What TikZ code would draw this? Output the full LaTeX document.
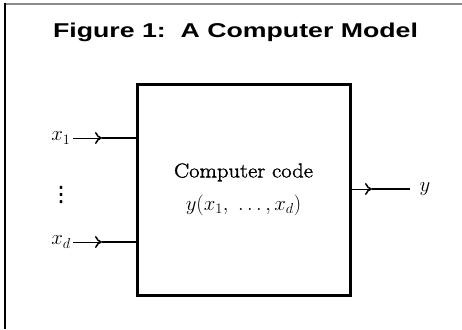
\documentclass[tikz,border=0pt]{standalone}
\usepackage{fontspec}
\usepackage{graphicx}
\newfontfamily\titlefont{Liberation Sans}
\newfontfamily\codefont[FakeBold=1.6, FakeStretch=1.13]{Latin Modern Roman}
\newfontfamily\dotsfont[FakeBold=1.5]{DejaVu Sans}
\usetikzlibrary{arrows.meta}
\tikzset{
  frameline/.style={line width=1.7pt},
  codebox/.style={draw, line width=3pt, minimum width=213pt, minimum height=211pt,
    inner sep=0pt, align=center, font=\fontsize{20}{33}\selectfont},
  varlabel/.style={inner sep=0pt, font=\fontsize{20}{24}\selectfont},
  tipline/.style={line width=0.9pt, -{Computer Modern Rightarrow[length=7pt,width=12pt,line width=1.5pt]}},
  leadline/.style={line width=2pt}
}
\begin{document}
\begin{tikzpicture}[x=1pt,y=-1pt]
  \useasboundingbox (0,0) rectangle (462,329);
  % frame edges
  \draw[frameline, black!45] (4,3.8) -- (462,3.8);
  \draw[frameline] (4.8,3) -- (4.8,329);
  % title
  \node[anchor=base, inner sep=0pt] (title) at (235.5,37.3)
    {\scalebox{1.335}[1]{\titlefont\bfseries\fontsize{20}{24}\selectfont Figure 1:\ \ A Computer Model}};
  % the model box
  \node[codebox] (code) at (243.5,189.5) {{\codefont Computer code}\\$y(x_1,\ \ldots, x_d)$};
  % inputs
  \node[varlabel] (x1) at (61,138) {$x_1$};
  \node[varlabel] (xd) at (61,242) {$x_d$};
  \node[varlabel, font=\dotsfont\fontsize{21}{24}\selectfont] (dots) at (61,194.5) {⋮};
  \coordinate (t1) at (102,138);
  \coordinate (td) at (102,242);
  \draw[tipline] ([xshift=2pt]x1.east) -- (t1);
  \draw[leadline] (t1) -- (code.west |- t1);
  \draw[tipline] ([xshift=2pt]xd.east) -- (td);
  \draw[leadline] (td) -- (code.west |- td);
  % output
  \node[varlabel] (y) at (425,189) {$y$};
  \coordinate (to) at (372,189);
  \draw[tipline] (code.east |- to) -- (to);
  \draw[leadline] (to) -- ([xshift=-9pt]y.west);
\end{tikzpicture}
\end{document}
